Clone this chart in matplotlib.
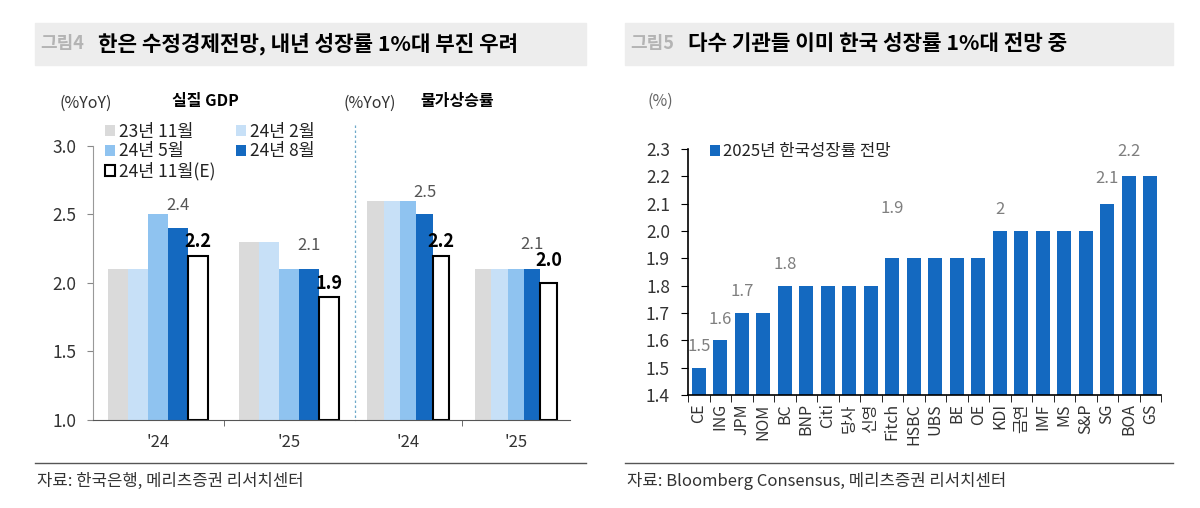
import matplotlib
matplotlib.use("Agg")
import matplotlib.pyplot as plt
from matplotlib.patches import Rectangle
from matplotlib.lines import Line2D

plt.rcParams['font.family'] = ['Noto Sans CJK KR', 'DejaVu Sans']

# 데이터
years = ["'24", "'25"]
series = ["23년 11월", "24년 2월", "24년 5월", "24년 8월", "24년 11월(E)"]
gdp = [[2.1, 2.1, 2.5, 2.4, 2.2],
       [2.3, 2.3, 2.1, 2.1, 1.9]]
cpi = [[2.6, 2.6, 2.6, 2.5, 2.2],
       [2.1, 2.1, 2.1, 2.1, 2.0]]

inst = ["CE", "ING", "JPM", "NOM", "BC", "BNP", "Citi", "당사", "신영", "Fitch", "HSBC",
        "UBS", "BE", "OE", "KDI", "금연", "IMF", "MS", "S&P", "SG", "BOA", "GS"]
growth = [1.5, 1.6, 1.7, 1.7, 1.8, 1.8, 1.8, 1.8, 1.8, 1.9, 1.9,
          1.9, 1.9, 1.9, 2.0, 2.0, 2.0, 2.0, 2.0, 2.1, 2.2, 2.2]
labeled = ["CE", "ING", "JPM", "BC", "Fitch", "KDI", "SG", "BOA"]

colors = ["#DADADA", "#C7E0F7", "#8FC3F0", "#1469C0", "white"]
blue = "#1469C0"
W, H = 1200, 508

fig = plt.figure(figsize=(12, 5.08), dpi=100)


def fx(px):
    return px / W


def fy(py):
    return 1 - py / H


# 제목 바 / 출처
for x0, x1, num, title, src in [
        (35, 586, "그림4", "한은 수정경제전망, 내년 성장률 1%대 부진 우려", "자료: 한국은행, 메리츠증권 리서치센터"),
        (625, 1173, "그림5", "다수 기관들 이미 한국 성장률 1%대 전망 중", "자료: Bloomberg Consensus, 메리츠증권 리서치센터")]:
    fig.patches.append(Rectangle((fx(x0), fy(65)), fx(x1 - x0), 42 / H,
                                 transform=fig.transFigure, color="#EDEDED", zorder=0))
    fig.text(fx(x0 + 5), fy(44), num, fontsize=13, color="#B4B4B4", fontweight="bold", va="center")
    fig.text(fx(x0 + 63), fy(44), title, fontsize=15.3, color="black", fontweight="bold", va="center")
    fig.lines.append(Line2D([fx(x0), fx(x1)], [fy(463), fy(463)], transform=fig.transFigure,
                            color="#555555", lw=1))
    fig.text(fx(x0 + 2), fy(481), src, fontsize=12, color="#333333", va="center")

# 왼쪽 차트
bw = 0.153
ax1 = fig.add_axes([fx(93), fy(420), fx(354.5 - 93), 274 / H])
ax2 = fig.add_axes([fx(354.5), fy(420), fx(569.5 - 354.5), 274 / H])

bars = []
for ax, data, gray_nudge, bold_nudge in [(ax1, gdp, [0, 1], [0, 0]), (ax2, cpi, [0, 2], [0, 6])]:
    for j in range(5):
        xs = [c + (j - 2) * bw for c in range(len(years))]
        vals = [data[c][j] for c in range(len(years))]
        b = ax.bar(xs, [v - 1.0 for v in vals], bw, bottom=1.0, color=colors[j],
                   edgecolor="black" if j == 4 else colors[j], linewidth=1.5 if j == 4 else 0)
        bars.append(b)
    for c in range(len(years)):
        ax.annotate(f"{data[c][3]:.1f}", (c + bw, data[c][3]), xytext=(0, 10 + gray_nudge[c]),
                    textcoords="offset points", ha="center", va="bottom", fontsize=12, color="#555555")
        ax.annotate(f"{data[c][4]:.1f}", (c + 2 * bw, data[c][4]), xytext=(0, 3 + bold_nudge[c]),
                    textcoords="offset points", ha="center", va="bottom", fontsize=13,
                    color="black", fontweight="bold")
    ax.set_xlim(-0.5, len(years) - 0.5)
    ax.set_ylim(1.0, 3.0)
    ax.set_xticks(range(len(years)))
    ax.set_xticklabels(years, fontsize=12, color="#333333")
    ax.set_xticks([0.5], minor=True)
    ax.tick_params(axis="x", which="major", length=0, pad=10)
    ax.tick_params(axis="x", which="minor", length=4, color="#555555", direction="out")
    for s in ["top", "right"]:
        ax.spines[s].set_visible(False)
    ax.spines["bottom"].set_color("#555555")
    ax.set_facecolor("none")

ax1.set_yticks([1.0, 1.5, 2.0, 2.5, 3.0])
ax1.set_yticklabels(["1.0", "1.5", "2.0", "2.5", "3.0"], fontsize=12.5, color="#333333")
ax1.tick_params(axis="y", length=4, color="#888888", pad=8)
ax1.spines["left"].set_color("#999999")
ax2.spines["left"].set_visible(False)
ax2.set_yticks([])

fig.lines.append(Line2D([fx(354.5), fx(354.5)], [fy(125), fy(420)], transform=fig.transFigure,
                        color="#6FA9C9", lw=0.9, ls=(0, (2, 2))))

fig.text(fx(86), fy(103), "(%YoY)", fontsize=11.5, color="#333333", ha="center", va="center")
fig.text(fx(205), fy(101), "실질 GDP", fontsize=11.5, color="black", fontweight="bold", ha="center", va="center")
fig.text(fx(370), fy(103), "(%YoY)", fontsize=11.5, color="#333333", ha="center", va="center")
fig.text(fx(457), fy(101), "물가상승률", fontsize=11.5, color="black", fontweight="bold", ha="center", va="center")

order = [0, 2, 4, 1, 3]
ax1.legend([bars[k] for k in order], [series[k] for k in order], ncol=2, frameon=False,
           loc="upper left", bbox_to_anchor=(fx(96), fy(114)), bbox_transform=fig.transFigure,
           fontsize=12.5, handlelength=0.6, handleheight=0.6, handletextpad=0.2,
           columnspacing=1.2, labelspacing=0.1, borderpad=0, labelcolor="#222222")

# 오른쪽 차트
ax3 = fig.add_axes([fx(688), fy(395), fx(1161 - 688), 246 / H])
xs = list(range(len(inst)))
b3 = ax3.bar(xs, [g - 1.4 for g in growth], 0.65, bottom=1.4, color=blue, label="2025년 한국성장률 전망")
nudge = {"Fitch": 21, "SG": 3, "BOA": 3}
for i, name in enumerate(inst):
    if name in labeled:
        ax3.annotate(f"{growth[i]:g}", (i, growth[i]), xytext=(0, 9 + nudge.get(name, 0)),
                     textcoords="offset points", ha="center", va="bottom", fontsize=12, color="#7F7F7F")
ax3.set_xlim(-0.5, len(inst) - 0.5)
ax3.set_ylim(1.4, 2.3)
ax3.set_yticks([1.4 + 0.1 * k for k in range(10)])
ax3.set_yticklabels([f"{1.4 + 0.1 * k:.1f}" for k in range(10)], fontsize=12.5, color="#333333")
ax3.tick_params(axis="y", length=5, color="black", pad=8)
ax3.set_xticks(xs)
ax3.set_xticklabels(inst, rotation=90, fontsize=11.5, color="#333333")
ax3.set_xticks([k + 0.5 for k in range(-1, len(inst))], minor=True)
ax3.tick_params(axis="x", which="major", length=0, pad=6)
ax3.tick_params(axis="x", which="minor", length=5, color="black")
for s in ["top", "right"]:
    ax3.spines[s].set_visible(False)
ax3.spines["left"].set_linewidth(1.2)
ax3.spines["bottom"].set_linewidth(1.2)
ax3.set_facecolor("none")
ax3.legend(loc="upper left", bbox_to_anchor=(fx(702), fy(135)), bbox_transform=fig.transFigure,
           frameon=False, fontsize=12, handlelength=0.55, handleheight=0.7, handletextpad=0.2,
           borderpad=0, labelcolor="#222222")
fig.text(fx(660), fy(101), "(%)", fontsize=11.5, color="#666666", ha="center", va="center")

fig.savefig("out.png", dpi=100)
